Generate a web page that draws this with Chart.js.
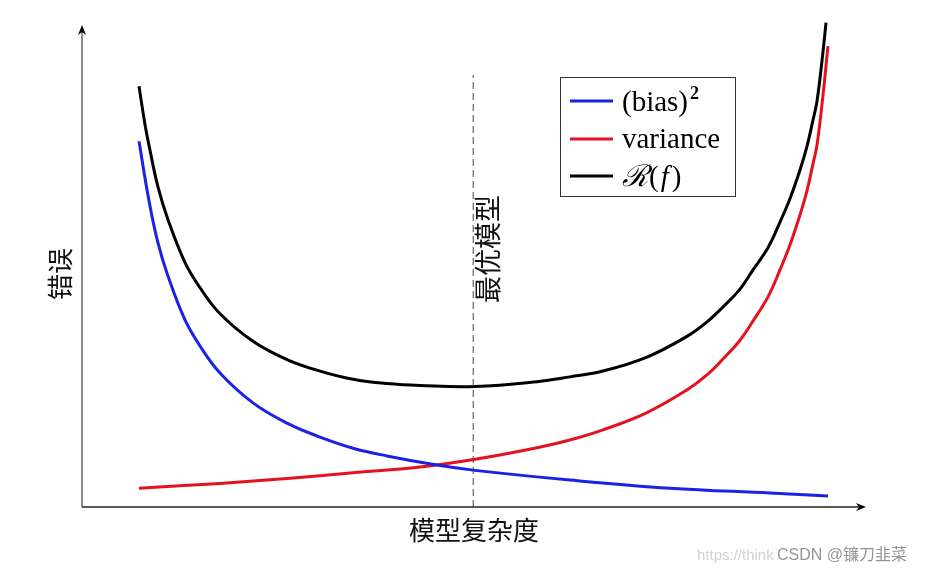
<!DOCTYPE html>
<html>
<head>
<meta charset="utf-8">
<title>模型复杂度与错误</title>
<script src="https://cdn.jsdelivr.net/npm/chart.js@4.4.1/dist/chart.umd.min.js"></script>
<style>
  html, body { margin: 0; padding: 0; background: #fff; }
  #wrap { width: 928px; height: 576px; }
</style>
</head>
<body>
<div id="wrap"><canvas id="myChart" width="928" height="576"></canvas></div>
<script>
// Curve samples (x: model complexity 0-100, y: error 0-100)
const biasX = [7.27, 8.55, 9.69, 10.97, 13.14, 15.05, 17.60, 21.81, 26.15, 30.36, 34.57, 38.90, 45.28, 50.13, 62.24, 75.00, 87.76, 95.15];
const biasY = [75.9, 63.5, 54.8, 47.9, 38.8, 33.4, 27.8, 21.6, 17.4, 14.5, 12.2, 10.6, 8.7, 7.6, 5.6, 3.9, 2.9, 2.3];

const varX = [7.27, 17.60, 26.15, 34.57, 43.11, 50.13, 58.04, 62.24, 66.45, 72.07, 77.17, 79.72, 81.76, 83.93, 85.59, 87.50, 89.03, 90.31, 91.58, 92.47, 93.24, 93.75, 94.52, 95.15];
const varY = [3.9, 4.9, 5.9, 7.1, 8.3, 9.9, 12.3, 13.9, 16.0, 19.6, 24.3, 27.4, 30.7, 34.6, 38.6, 43.6, 49.2, 54.4, 60.6, 65.6, 71.2, 75.1, 85.5, 95.6];

const riskX = [7.27, 8.04, 8.55, 9.69, 10.97, 13.14, 15.05, 17.60, 21.81, 26.15, 30.36, 34.57, 38.90, 43.11, 50.13, 58.04, 62.24, 66.45, 72.07, 77.17, 79.72, 81.76, 83.93, 85.59, 87.50, 89.03, 90.31, 91.58, 92.47, 93.24, 93.75, 94.52, 94.90];
const riskY = [87.3, 79.3, 75.0, 66.4, 59.6, 50.7, 45.5, 40.1, 34.4, 30.6, 28.2, 26.5, 25.6, 25.2, 25.0, 26.0, 27.0, 28.2, 31.1, 35.4, 38.4, 41.5, 45.2, 49.2, 53.8, 59.1, 64.0, 69.9, 74.8, 80.3, 84.2, 94.5, 100.5];

// Optimal model marker
const optimalX = 49.9;
const optimalTop = 89.6;

const seriesLabels = ['(bias)', 'variance', 'R(f)'];
const seriesColors = ['#1a22e6', '#e4121e', '#000000'];

const toPoints = (xs, ys) => xs.map((x, i) => ({ x: x, y: ys[i] }));

// Axes with arrows, labels, legend box and watermark
const decorations = {
  id: 'decorations',
  afterDatasetsDraw(chart) {
    const c = chart.ctx;
    const a = chart.chartArea;
    c.save();

    // axes
    c.lineWidth = 1.5;
    c.strokeStyle = '#666';
    c.beginPath();
    c.moveTo(a.left, a.bottom);
    c.lineTo(a.left, a.top + 2);
    c.stroke();
    c.strokeStyle = '#222';
    c.beginPath();
    c.moveTo(a.left, a.bottom);
    c.lineTo(a.right - 2, a.bottom);
    c.stroke();

    c.fillStyle = '#000';
    c.beginPath();
    c.moveTo(a.left, a.top);
    c.lineTo(a.left - 4, a.top + 10);
    c.lineTo(a.left, a.top + 7);
    c.lineTo(a.left + 4, a.top + 10);
    c.closePath();
    c.fill();
    c.beginPath();
    c.moveTo(a.right, a.bottom);
    c.lineTo(a.right - 10, a.bottom - 4);
    c.lineTo(a.right - 7, a.bottom);
    c.lineTo(a.right - 10, a.bottom + 4);
    c.closePath();
    c.fill();

    // axis titles
    c.fillStyle = '#111';
    c.font = '26px "Noto Sans CJK SC"';
    c.textAlign = 'center';
    c.textBaseline = 'middle';
    c.fillText('模型复杂度', 474, 530);

    c.save();
    c.translate(60, 274);
    c.rotate(-Math.PI / 2);
    c.fillText('错误', 0, 0);
    c.restore();

    c.save();
    c.translate(488, 249);
    c.rotate(-Math.PI / 2);
    c.font = '27px "Noto Sans CJK SC"';
    c.fillText('最优模型', 0, 0);
    c.restore();

    // legend
    c.strokeStyle = '#333';
    c.lineWidth = 1;
    c.strokeRect(560.5, 77.5, 175, 119);
    const rows = [101, 139, 176];
    c.textAlign = 'left';
    c.textBaseline = 'alphabetic';
    rows.forEach((y, i) => {
      c.strokeStyle = seriesColors[i];
      c.lineWidth = 3;
      c.beginPath();
      c.moveTo(570, y);
      c.lineTo(613, y);
      c.stroke();
    });
    c.fillStyle = '#000';
    c.font = '29px "Liberation Serif"';
    c.fillText(seriesLabels[0], 622, 111);
    const bw = c.measureText(seriesLabels[0]).width;
    c.font = 'bold 18px "Liberation Serif"';
    c.fillText('2', 622 + bw + 2, 99);
    c.font = '29px "Liberation Serif"';
    c.fillText(seriesLabels[1], 622, 148);
    c.font = 'italic 30px "DejaVu Serif"';
    c.fillText('ℛ', 622, 186);
    const rw = c.measureText('ℛ').width;
    c.font = '29px "Liberation Serif"';
    c.fillText('(', 622 + rw + 1, 186);
    const pw = c.measureText('(').width;
    c.font = 'italic 29px "Liberation Serif"';
    c.fillText('f', 622 + rw + pw + 3, 186);
    const fw = c.measureText('f').width;
    c.font = '29px "Liberation Serif"';
    c.fillText(')', 622 + rw + pw + fw + 6, 186);

    // watermark
    c.textBaseline = 'middle';
    c.font = '15px "Liberation Sans"';
    c.fillStyle = '#d2d2d2';
    c.fillText('https://think', 697, 556);
    c.font = '16px "Liberation Sans", "Noto Sans CJK SC"';
    c.fillStyle = '#949494';
    c.fillText('CSDN @镰刀韭菜', 777, 556);

    c.restore();
  }
};

const ctx = document.getElementById('myChart').getContext('2d');

const curve = (label, xs, ys, color) => ({
  label: label,
  data: toPoints(xs, ys),
  borderColor: color,
  borderWidth: 3,
  pointRadius: 0,
  tension: 0.4,
  clip: false
});

const myChart = new Chart(ctx, {
  type: 'line',
  data: {
    datasets: [
      {
        label: 'optimal',
        data: [{ x: optimalX, y: 0 }, { x: optimalX, y: optimalTop }],
        borderColor: '#444',
        borderWidth: 1,
        borderDash: [7, 4],
        pointRadius: 0
      },
      curve(seriesLabels[0], biasX, biasY, seriesColors[0]),
      curve(seriesLabels[1], varX, varY, seriesColors[1]),
      curve(seriesLabels[2], riskX, riskY, seriesColors[2])
    ]
  },
  options: {
    responsive: false,
    animation: false,
    layout: {
      padding: { left: 82, right: 62, top: 25, bottom: 69 }
    },
    scales: {
      x: { type: 'linear', min: 0, max: 100, display: false },
      y: { type: 'linear', min: 0, max: 100, display: false }
    },
    plugins: {
      legend: { display: false },
      tooltip: { enabled: false }
    }
  },
  plugins: [decorations]
});
</script>
</body>
</html>
